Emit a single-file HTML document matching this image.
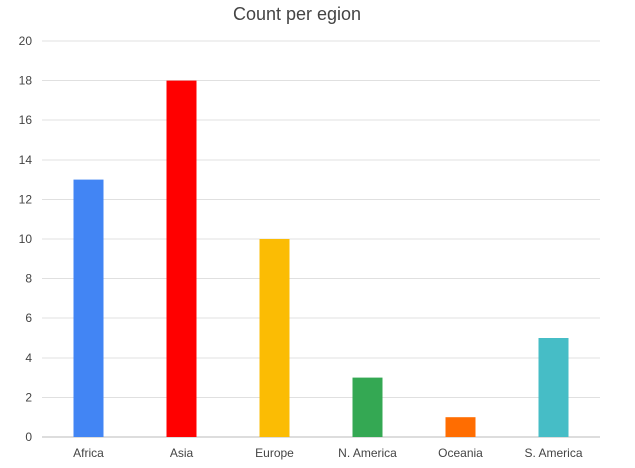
<!DOCTYPE html>
<html><head><meta charset="utf-8"><style>
html,body{margin:0;padding:0;background:#fff;}
svg{display:block;font-family:"Liberation Sans",Arial,sans-serif;}
</style></head><body>
<svg id="chart" width="635" height="468" viewBox="0 0 635 468">
<text x="297" y="20" text-anchor="middle" font-size="18" fill="#444">Count per egion</text>
<g id="grid"></g><g id="bars"></g><g id="xlabels"></g><g id="ylabels"></g>
</svg>
<script>
const categories = ["Africa","Asia","Europe","N. America","Oceania","S. America"];
const values = [13,18,10,3,1,5];
const colors = ["#4285f4","#ff0000","#fbbc04","#34a853","#ff6d01","#46bdc6"];
const yTicks = [0,2,4,6,8,10,12,14,16,18,20];
const NS="http://www.w3.org/2000/svg";
const plotLeft=42,plotRight=600,plotTop=41,plotBottom=437,yMax=20;
const yScale=v=>plotBottom-(v/yMax)*(plotBottom-plotTop);
const band=(plotRight-plotLeft)/categories.length;
const xScale=i=>plotLeft+band*i+band/2;
const barW=30;
function mk(tag,attrs,parent){const e=document.createElementNS(NS,tag);for(const k in attrs)e.setAttribute(k,attrs[k]);document.getElementById(parent).appendChild(e);return e;}
yTicks.forEach(t=>{
  const l=mk("line",{x1:plotLeft,x2:plotRight,y1:yScale(t),y2:yScale(t),stroke:t===0?"#bbb":"#e0e0e0","stroke-width":1,"shape-rendering":"crispEdges"},"grid");
  
  
  const tx=mk("text",{x:32,y:yScale(t)+4,"text-anchor":"end","font-size":12,fill:"#444"},"ylabels");
  tx.textContent=t;
  
  
});
categories.forEach((c,i)=>{
  const r=mk("rect",{x:xScale(i)-barW/2,y:yScale(values[i]),width:barW,height:plotBottom-yScale(values[i]),fill:colors[i]},"bars");
  
  
  const tx=mk("text",{x:xScale(i),y:457,"text-anchor":"middle","font-size":12,fill:"#444"},"xlabels");
  tx.textContent=c;
  
  
});
</script>
</body></html>
